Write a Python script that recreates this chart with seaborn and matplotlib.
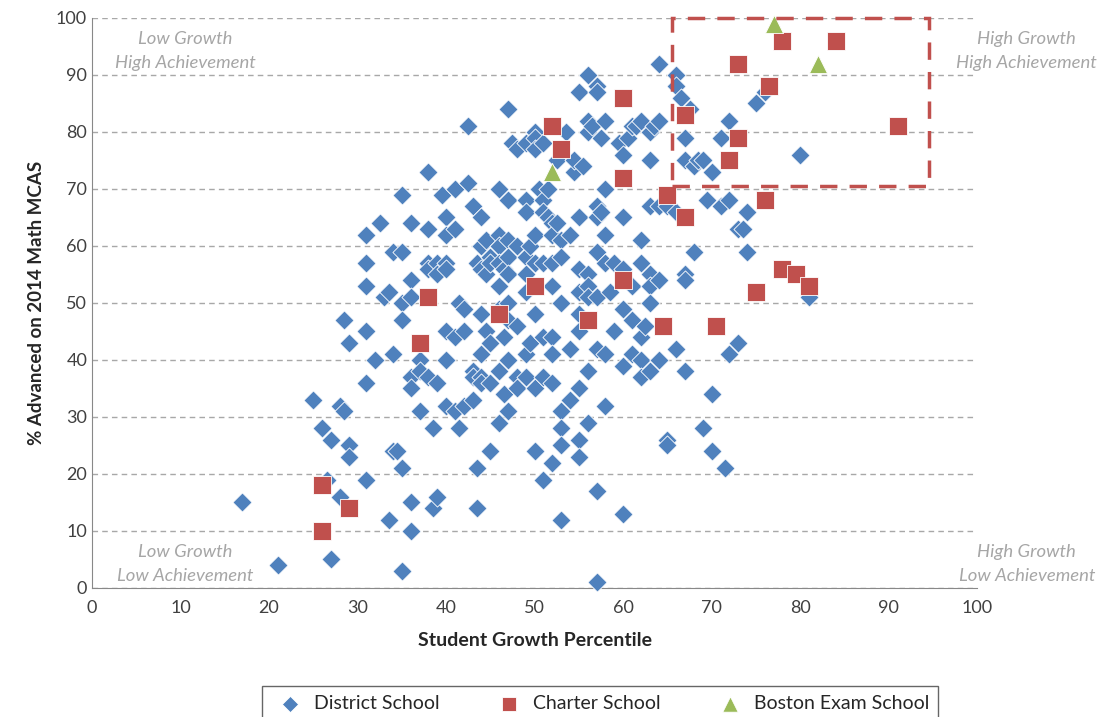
import seaborn as sns
import matplotlib.pyplot as plt
import pandas as pd
from matplotlib.patches import Rectangle

# District schools (growth percentile, % advanced)
district_x = [17, 21, 25, 26, 26.5, 27, 27, 28, 28.5, 28.5, 29, 29, 29, 28,
              31, 31, 31, 31, 31, 31, 32, 32.5, 33, 33.5, 33.5, 34, 34, 34, 34.5,
              35, 35, 35, 35, 35, 35, 36, 36, 36, 36, 36, 36, 36, 37, 37, 37,
              38, 38, 38, 38, 38, 38.5, 38.5, 39, 39, 39, 39, 39.5, 40, 40, 40, 40,
              40, 40, 40, 41, 41, 41, 41, 41.5, 41.5, 42, 42, 42, 42.5, 42.5, 43,
              43, 43, 43, 43.5, 43.5, 43.5, 44, 44, 44, 44, 44, 44, 44, 44.5, 44.5,
              44.5, 45, 45, 45, 45, 45, 46, 46, 46, 46, 46, 46, 46, 46, 46.5, 46.5,
              46.5, 47, 47, 47, 47, 47, 47, 47, 47, 47, 47.5, 48, 48, 48, 48, 48,
              49, 49, 49, 49, 49, 49, 49, 49, 49.5, 49.5, 50, 50, 50, 50, 50, 50,
              50, 50, 50.5, 51, 51, 51, 51, 51, 51, 51, 51.5, 51.5, 52, 52, 52, 52,
              52, 52, 52, 52, 52.5, 52.5, 53, 53, 53, 53, 53, 53, 53, 53.5, 54, 54,
              54, 54.5, 54.5, 55, 55, 55, 55, 55, 55, 55, 55, 55, 55.5, 56, 56, 56,
              56, 56, 56, 56, 56, 56.5, 57, 57, 57, 57, 57, 57, 57, 57, 57, 57.5,
              57.5, 58, 58, 58, 58, 58, 58, 58.5, 59, 59, 59.5, 60, 60, 60, 60, 60,
              60, 60.5, 61, 61, 61, 61, 61.5, 62, 62, 62, 62, 62, 62, 62.5, 63, 63,
              63, 63, 63, 63, 63, 63.5, 64, 64, 64, 64, 64, 65, 65, 65, 66, 66, 66,
              66, 66.5, 67, 67, 67, 67, 67, 67.5, 68, 68, 68.5, 69, 69, 69.5, 70,
              70, 70, 71, 71, 71.5, 72, 72, 72, 73, 73, 73.5, 74, 74, 75, 76, 80, 81]
district_y = [15, 4, 33, 28, 19, 26, 5, 32, 31, 47, 43, 25, 23, 16,
              62, 57, 53, 45, 36, 19, 40, 64, 51, 52, 12, 59, 41, 24, 24,
              69, 59, 50, 47, 21, 3, 64, 54, 51, 37, 35, 15, 10, 40, 38, 31,
              73, 63, 57, 56, 37, 28, 14, 57, 55, 36, 16, 69, 65, 62, 57, 56,
              45, 40, 32, 70, 63, 44, 31, 50, 28, 49, 45, 32, 71, 81, 67,
              38, 37, 33, 57, 14, 21, 65, 60, 56, 48, 41, 37, 36, 61, 55,
              45, 58, 57, 43, 36, 24, 70, 62, 60, 57, 53, 49, 38, 29, 56, 44,
              34, 84, 68, 61, 58, 55, 50, 47, 40, 31, 78, 77, 60, 46, 37, 35,
              78, 68, 66, 58, 55, 52, 41, 37, 60, 43, 80, 79, 77, 62, 57, 48,
              35, 24, 70, 78, 68, 66, 57, 44, 37, 19, 70, 65, 64, 62, 57, 53,
              44, 41, 36, 22, 75, 64, 61, 58, 50, 31, 28, 25, 12, 80, 62, 42,
              33, 73, 75, 87, 65, 56, 52, 48, 45, 35, 26, 23, 74, 90, 82, 80,
              55, 53, 51, 38, 29, 81, 88, 87, 67, 65, 59, 51, 42, 17, 1, 79,
              66, 82, 70, 62, 57, 41, 32, 52, 57, 45, 78, 76, 65, 56, 49, 39,
              13, 79, 81, 53, 47, 41, 81, 82, 61, 57, 44, 40, 37, 46, 80, 75,
              67, 55, 53, 50, 38, 81, 92, 82, 67, 54, 40, 26, 25, 67, 90, 88, 66,
              42, 86, 79, 75, 55, 54, 38, 84, 74, 59, 75, 75, 28, 68, 73,
              34, 24, 79, 67, 21, 82, 68, 41, 63, 43, 63, 66, 59, 85, 87, 76, 51]

charter_x = [26, 26, 29, 37, 38, 46, 50, 52, 53, 56, 60, 60, 60, 65, 64.5,
             67, 67, 73, 78, 84, 76.5, 91, 73, 72, 76, 78, 79.5, 81, 75, 70.5]
charter_y = [18, 10, 14, 43, 51, 48, 53, 81, 77, 47, 86, 72, 54, 69, 46,
             83, 65, 92, 96, 96, 88, 81, 79, 75, 68, 56, 55, 53, 52, 46]

exam_x = [52, 77, 82]
exam_y = [73, 99, 92]

groups = ["District School", "Charter School", "Boston Exam School"]

df = pd.DataFrame({
    "growth": district_x + charter_x + exam_x,
    "advanced": district_y + charter_y + exam_y,
    "type": [groups[0]] * len(district_x) + [groups[1]] * len(charter_x)
            + [groups[2]] * len(exam_x),
})

sns.set_style("white")
plt.rcParams['font.family'] = ['Lato', 'DejaVu Sans']

fig = plt.figure(figsize=(10.99, 7.17), dpi=100)
ax = fig.add_axes([0.0837, 0.18, 0.8055, 0.795])

palette = {groups[0]: "#4F81BD", groups[1]: "#C0504D", groups[2]: "#9BBB59"}
markers = {groups[0]: "D", groups[1]: "s", groups[2]: "^"}
sizes = {groups[0]: 95, groups[1]: 160, groups[2]: 170}

for g in groups:
    sub = df[df["type"] == g]
    sns.scatterplot(data=sub, x="growth", y="advanced", color=palette[g],
                    marker=markers[g], s=sizes[g], edgecolor="white",
                    linewidth=0.6, ax=ax, label=g, zorder=3, clip_on=False)

# high growth / high achievement box
ax.add_patch(Rectangle((65.5, 70.5), 29, 29.5, fill=False, edgecolor="#C0504D",
                       linestyle=(0, (5, 3.5)), linewidth=2.5, zorder=4,
                       clip_on=False))

ax.set_xlim(0, 100)
ax.set_ylim(0, 100)
ax.set_xticks(range(0, 101, 10))
ax.set_yticks(range(0, 101, 10))
ax.tick_params(axis="both", labelsize=13, colors="#404040")
ax.tick_params(axis="x", direction="out", length=5, color="#888888")
ax.tick_params(axis="y", length=0)
ax.yaxis.grid(True, linestyle=(0, (4, 3)), color="#a8a8a8", linewidth=1)
ax.set_axisbelow(True)
sns.despine(ax=ax)
ax.spines["left"].set_color("#888888")
ax.spines["bottom"].set_color("#888888")

ax.set_xlabel("Student Growth Percentile", fontsize=14, fontweight="bold",
              labelpad=12)
ax.set_ylabel("% Advanced on 2014 Math MCAS", fontsize=13.5, fontweight="bold",
              labelpad=8)

qkw = dict(fontsize=13.3, style="italic", color="#a6a6a6", ha="center",
           va="center", linespacing=1.6)
ax.text(10.5, 94.2, "Low Growth\nHigh Achievement", **qkw)
ax.text(105.6, 94.2, "High Growth\nHigh Achievement", **qkw)
ax.text(10.5, 4.2, "Low Growth\nLow Achievement", **qkw)
ax.text(105.6, 4.2, "High Growth\nLow Achievement", **qkw)

leg = ax.legend(loc="upper center", bbox_to_anchor=(0.546, 0.043),
                bbox_transform=fig.transFigure, ncol=3, frameon=True,
                fancybox=False, fontsize=14, markerscale=0.85,
                handletextpad=0.2, columnspacing=2.6, borderpad=0.45,
                borderaxespad=0)
leg.get_frame().set_edgecolor("#404040")
leg.get_frame().set_linewidth(1)

fig.savefig("out.png", dpi=100)
